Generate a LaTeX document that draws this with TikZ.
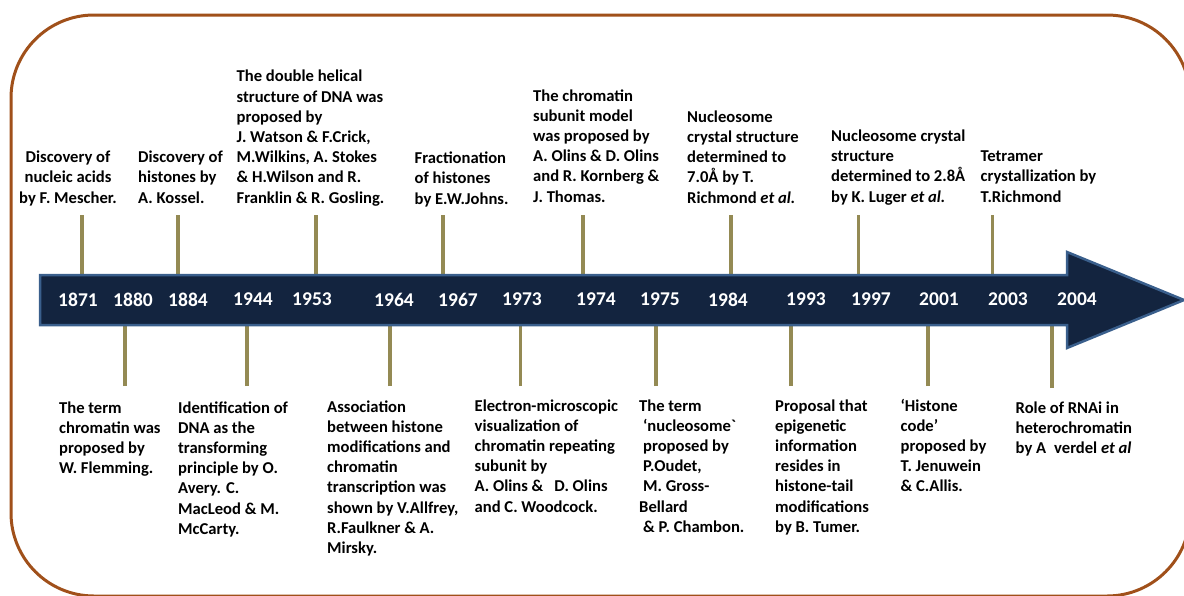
\documentclass[tikz,border=0pt]{standalone}
\usepackage{fontspec}
\setmainfont{Carlito}
\newfontfamily\gravefont{Carlito}[Ligatures=TeXOff]
\definecolor{framebrown}{HTML}{A0501A}
\definecolor{barblue}{HTML}{13243F}
\definecolor{baredge}{HTML}{3A5F8C}
\definecolor{tickolive}{HTML}{948A54}
\tikzset{
 event/.style={anchor=base west,align=left,inner sep=0pt,font=\fontsize{16.6}{20.2}\selectfont\bfseries},
 year/.style={text=white,inner sep=0pt,font=\fontsize{19.5}{22}\selectfont\bfseries},
 tick/.style={draw=tickolive,line width=3.5pt},
}
\begin{document}
\begin{tikzpicture}[x=1pt,y=-1pt]
 \useasboundingbox (0,0) rectangle (1184,595);
 \draw[framebrown,line width=3pt,rounded corners=83pt](11,15) rectangle (1190,596);
 \coordinate (bartop) at (0,275);
 \coordinate (barbot) at (0,325);

 \node[event,anchor=base,align=center] (mescher) at (68,203) {Discovery of\\nucleic acids\\by F. Mescher.};
 \node[event] (kossel) at (138,203) {Discovery of\\histones by\\A. Kossel.};
 \node[event] (watson) at (236.5,203) {The double helical\\structure of DNA was\\proposed by\\J. Watson \& F.Crick,\\M.Wilkins, A. Stokes\\\& H.Wilson and R.\\Franklin \& R. Gosling.};
 \node[event] (johns) at (414.5,204) {Fractionation\\of histones\\by E.W.Johns.};
 \node[event] (olins) at (533,202) {The chromatin\\subunit model\\was proposed by\\A. Olins \& D. Olins\\and R. Kornberg \&\\J. Thomas.};
 \node[event] (richmond) at (687,203) {Nucleosome\\crystal structure\\determined to\\7.0Å by T.\\Richmond \textit{et al.}};
 \node[event] (luger) at (831,202) {Nucleosome crystal\\structure\\determined to 2.8Å\\by K. Luger \textit{et al.}};
 \node[event] (tetramer) at (980.5,202) {Tetramer\\crystallization by\\T.Richmond};

 \node[event] (flemming) at (59,473.6) {The term\\chromatin was\\proposed by\\W. Flemming.};
 \node[event] (avery) at (178,534.2) {Identification of\\DNA as the\\transforming\\principle by O.\\Avery. C.\\MacLeod \& M.\\McCarty.};
 \node[event] (allfrey) at (327,553.4) {Association\\between histone\\modifications and\\chromatin\\transcription was\\shown by V.Allfrey,\\R.Faulkner \& A.\\Mirsky.};
 \node[event] (woodcock) at (474.5,512) {Electron-microscopic\\visualization of\\chromatin repeating\\subunit by\\A. Olins \&\hspace{11pt}D. Olins\\and C. Woodcock.};
 \node[event] (oudet) at (639,532.2) {The term\\\hspace*{4pt}‘nucleosome{\gravefont `}\\\hspace*{4pt}proposed by\\\hspace*{4pt}P.Oudet,\\\hspace*{4pt}M. Gross-\\Bellard\\\hspace*{4pt}\& P. Chambon.};
 \node[event] (tumer) at (775,532.2) {Proposal that\\epigenetic\\information\\resides in\\histone-tail\\modifications\\by B. Tumer.};
 \node[event] (allis) at (900.5,491.8) {‘Histone\\code’\\proposed by\\T. Jenuwein\\\& C.Allis.};
 \node[event] (verdel) at (1015.5,453.4) {Role of RNAi in\\heterochromatin\\by A\hspace{8pt}verdel \textit{et al}};

 \coordinate (kmescher) at (82,215);
 \coordinate (kkossel) at (178,215);
 \coordinate (kwatson) at (316,215);
 \coordinate (kjohns) at (443,215);
 \coordinate (kolins) at (583,215);
 \coordinate (krichmond) at (731,215);
 \coordinate (kluger) at (858.5,215);
 \coordinate (ktetramer) at (992.5,215);
 \coordinate (kflemming) at (125,386);
 \coordinate (kavery) at (247,386);
 \coordinate (kallfrey) at (390,386);
 \coordinate (kwoodcock) at (520.5,386);
 \coordinate (koudet) at (656,386);
 \coordinate (ktumer) at (791,386);
 \coordinate (kallis) at (928,386);
 \coordinate (kverdel) at (1052,388);

 \draw[tick] (kmescher) -- (kmescher |- bartop);
 \draw[tick] (kkossel) -- (kkossel |- bartop);
 \draw[tick] (kwatson) -- (kwatson |- bartop);
 \draw[tick] (kjohns) -- (kjohns |- bartop);
 \draw[tick] (kolins) -- (kolins |- bartop);
 \draw[tick] (krichmond) -- (krichmond |- bartop);
 \draw[tick] (kluger) -- (kluger |- bartop);
 \draw[tick] (ktetramer) -- (ktetramer |- bartop);
 \draw[tick] (kflemming) -- (kflemming |- barbot);
 \draw[tick] (kavery) -- (kavery |- barbot);
 \draw[tick] (kallfrey) -- (kallfrey |- barbot);
 \draw[tick] (kwoodcock) -- (kwoodcock |- barbot);
 \draw[tick] (koudet) -- (koudet |- barbot);
 \draw[tick] (ktumer) -- (ktumer |- barbot);
 \draw[tick] (kallis) -- (kallis |- barbot);
 \draw[tick] (kverdel) -- (kverdel |- barbot);

 \draw[fill=barblue,draw=baredge,line width=2.5pt,line join=miter](40,275)--(1067,275)--(1067,252)--(1184,300)--(1067,348)--(1067,325)--(40,325)--cycle;

 \node[year] (y1871) at (78,299.5) {1871};
 \node[year] (y1880) at (133,299.5) {1880};
 \node[year] (y1884) at (188,299.5) {1884};
 \node[year] (y1944) at (253,299.5) {1944};
 \node[year] (y1953) at (312,299.5) {1953};
 \node[year] (y1964) at (394,299.5) {1964};
 \node[year] (y1967) at (458,299.5) {1967};
 \node[year] (y1973) at (522,299.5) {1973};
 \node[year] (y1974) at (596,299.5) {1974};
 \node[year] (y1975) at (660,299.5) {1975};
 \node[year] (y1984) at (728,299.5) {1984};
 \node[year] (y1993) at (806,299.5) {1993};
 \node[year] (y1997) at (871,299.5) {1997};
 \node[year] (y2001) at (939,299.5) {2001};
 \node[year] (y2003) at (1008,299.5) {2003};
 \node[year] (y2004) at (1077,299.5) {2004};
\end{tikzpicture}
\end{document}
